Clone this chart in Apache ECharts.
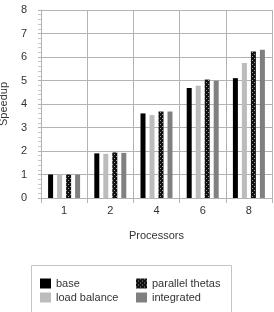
<!DOCTYPE html>
<html><head><meta charset="utf-8">
<script src="https://cdn.jsdelivr.net/npm/echarts@6/dist/echarts.min.js"></script>
<style>html,body{margin:0;padding:0;background:#fff}#c{width:274px;height:312px}</style>
</head><body><div id="c"></div>
<script>
var categories = ['1','2','4','6','8'];
var seriesNames = ['base','load balance','parallel thetas','integrated'];
var baseVals = [1.0, 1.90, 3.60, 4.68, 5.10];
var loadBalanceVals = [1.0, 1.88, 3.53, 4.78, 5.74];
var parallelThetasVals = [1.0, 1.94, 3.68, 5.04, 6.23];
var integratedVals = [1.0, 1.92, 3.68, 4.99, 6.31];
var yTicks = [0,1,2,3,4,5,6,7,8];

var pc = document.createElement('canvas');
pc.width = 4; pc.height = 4;
var ctx = pc.getContext('2d');
ctx.fillStyle = '#111'; ctx.fillRect(0,0,4,4);
ctx.fillStyle = '#9a9a9a';
ctx.fillRect(0,0,1,1); ctx.fillRect(2,2,1,1);
var pattern = {image: pc, repeat: 'repeat'};

var font = 'Liberation Sans, Arial, sans-serif';
var chart = echarts.init(document.getElementById('c'), null, {renderer:'canvas'});
function bar(name, data, color){
  return {name:name, type:'bar', data:data, barWidth:5, barGap:'80%',
    xAxisIndex:0, yAxisIndex:0, itemStyle:{color:color}};
}
chart.setOption({
  animation:false,
  textStyle:{fontFamily:font},
  grid:[
    {left:41, right:2, top:10, bottom:114, containLabel:false, outerBoundsMode:'none'},
    {show:true, left:31.5, top:265.5, width:200, height:60, containLabel:false,
     outerBoundsMode:'none', borderColor:'#c4c4c4', borderWidth:1, backgroundColor:'transparent'}
  ],
  xAxis:[{type:'category', data:categories, boundaryGap:true, gridIndex:0,
    name:'Processors', nameLocation:'middle', nameGap:32,
    nameTextStyle:{fontSize:11, color:'#333', fontFamily:font},
    axisLine:{show:true, lineStyle:{color:'#b3b3b3'}},
    axisTick:{show:true, length:5, lineStyle:{color:'#b3b3b3'}},
    axisLabel:{fontSize:11, color:'#333', margin:7, fontFamily:font},
    splitLine:{show:true, lineStyle:{color:'#b3b3b3'}}},
    {type:'value', gridIndex:1, show:false}],
  yAxis:[{type:'value', min:yTicks[0], max:yTicks[yTicks.length-1], interval:1, gridIndex:0,
    name:'Speedup', nameLocation:'middle', nameGap:32, nameRotate:90,
    nameTextStyle:{fontSize:11, color:'#333', fontFamily:font},
    axisLine:{show:true, lineStyle:{color:'#b3b3b3'}},
    axisTick:{show:true, length:3, lineStyle:{color:'#b3b3b3'}},
    minorTick:{show:true, splitNumber:5, length:3, lineStyle:{color:'#c8c8c8'}},
    axisLabel:{fontSize:11, color:'#333', margin:14, fontFamily:font},
    splitLine:{show:true, lineStyle:{color:'#b3b3b3'}}},
    {type:'value', gridIndex:1, show:false}],
  legend:[
    {data:[seriesNames[0], seriesNames[1]], orient:'vertical', left:40, top:278,
     itemWidth:11, itemHeight:10, itemGap:3, padding:0, icon:'rect',
     textStyle:{fontSize:11, color:'#333', fontFamily:font}},
    {data:[seriesNames[2], seriesNames[3]], orient:'vertical', left:136, top:278,
     itemWidth:11, itemHeight:10, itemGap:3, padding:0, icon:'rect',
     textStyle:{fontSize:11, color:'#333', fontFamily:font}}
  ],
  series:[
    bar(seriesNames[0], baseVals, '#000000'),
    bar(seriesNames[1], loadBalanceVals, '#bcbcbc'),
    bar(seriesNames[2], parallelThetasVals, pattern),
    bar(seriesNames[3], integratedVals, '#808080')
  ]
});
</script></body></html>
